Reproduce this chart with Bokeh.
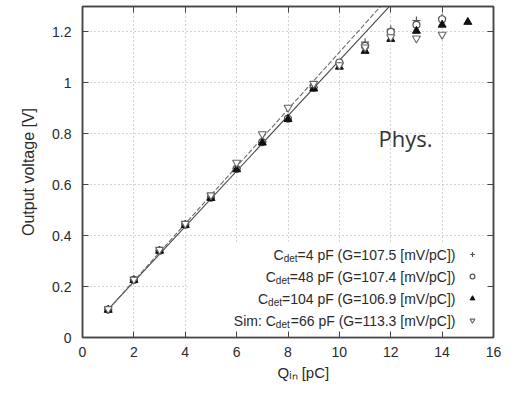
from bokeh.plotting import figure
from bokeh.models import (Range1d, FixedTicker, LinearAxis, Label, Legend, LegendItem,
                          BoxAnnotation, CustomJSTickFormatter, Title)
from bokeh.embed import file_html
from bokeh.resources import INLINE

# ---------------- data ----------------
q_14 = [1, 2, 3, 4, 5, 6, 7, 8, 9, 10, 11, 12, 13, 14]
q_15 = [1, 2, 3, 4, 5, 6, 7, 8, 9, 10, 11, 12, 13, 14, 15]
v_4pf = [0.110, 0.226, 0.342, 0.444, 0.551, 0.663, 0.768, 0.862, 0.982, 1.076, 1.160, 1.210, 1.245, 1.255]
v_48pf = [0.110, 0.226, 0.341, 0.443, 0.549, 0.662, 0.767, 0.860, 0.981, 1.080, 1.145, 1.200, 1.228, 1.250]
v_104pf = [0.108, 0.225, 0.340, 0.441, 0.547, 0.660, 0.765, 0.857, 0.977, 1.063, 1.125, 1.172, 1.204, 1.228, 1.239]
v_sim = [0.112, 0.228, 0.345, 0.447, 0.559, 0.687, 0.799, 0.903, 0.997, 1.070, 1.140, 1.180, 1.175, 1.190]

fit_x = [1, 12.5]
fit_meas_y = [0.110, 1.360]
fit_sim_y = [0.110, 1.401]

x_ticks = [0, 2, 4, 6, 8, 10, 12, 14, 16]
y_ticks = [0, 0.2, 0.4, 0.6, 0.8, 1.0, 1.2]

legend_prefix = ["C", "C", "C", "Sim: C"]
legend_tail = ["=4 pF (G=107.5 [mV/pC])", "=48 pF (G=107.4 [mV/pC])",
               "=104 pF (G=106.9 [mV/pC])", "=66 pF (G=113.3 [mV/pC])"]

# ---------------- figure ----------------
FONT = "Liberation Sans"
TXT = "#2a2a2a"
EDGE = "#444444"

p = figure(width=518, height=397, output_backend="svg", toolbar_location=None,
           x_range=Range1d(0, 16), y_range=Range1d(0, 1.3),
           min_border_left=82, min_border_right=25, min_border_top=6, min_border_bottom=60)
p.background_fill_color = "white"
p.border_fill_color = "white"
p.outline_line_color = EDGE
p.outline_line_width = 1.5

xt = FixedTicker(ticks=x_ticks)
yt = FixedTicker(ticks=y_ticks)
p.xaxis.ticker = xt
p.yaxis.ticker = yt
p.yaxis.formatter = CustomJSTickFormatter(code="return String(Math.round(tick*10)/10);")
for ax in (p.xaxis[0], p.yaxis[0]):
    ax.major_tick_in = 6
    ax.major_tick_out = 0
    ax.minor_tick_line_color = None
    ax.axis_line_color = EDGE
    ax.axis_line_width = 1.5
    ax.major_tick_line_color = EDGE
    ax.major_label_text_font = FONT
    ax.major_label_text_font_size = "14px"
    ax.major_label_text_color = TXT
p.xaxis.major_label_standoff = 9
p.yaxis.major_label_standoff = 11
p.yaxis.axis_label = "Output voltage [V]"
p.yaxis.axis_label_text_font = FONT
p.yaxis.axis_label_text_font_size = "16px"
p.yaxis.axis_label_text_font_style = "normal"
p.yaxis.axis_label_text_color = TXT
p.yaxis.axis_label_standoff = 12

blank = CustomJSTickFormatter(code="return '';")
for tick, place in ((xt, "above"), (yt, "right")):
    ax = LinearAxis(ticker=tick, formatter=blank, major_label_standoff=0,
                    major_tick_in=6, major_tick_out=0, minor_tick_line_color=None,
                    axis_line_color=EDGE, axis_line_width=1.5, major_tick_line_color=EDGE)
    p.add_layout(ax, place)

# x axis title (with subscript "in")
p.add_layout(Title(text="Qᵢₙ [pC]", align="left", offset=195, standoff=4,
                   text_font=FONT, text_font_size="15px", text_font_style="normal",
                   text_color=TXT), "below")

p.xgrid.ticker = xt
p.ygrid.ticker = yt
for g in (p.xgrid[0], p.ygrid[0]):
    g.grid_line_color = "#a8a8a8"
    g.grid_line_dash = "1 3"
    g.grid_line_width = 1

# key background box (hides the grid behind the key, as in the original)
p.add_layout(BoxAnnotation(left=4.1, right=15.93, bottom=0.004, top=0.37,
                           fill_color="white", fill_alpha=1.0, line_alpha=0, level="underlay"))

# fit lines
p.line(fit_x, fit_meas_y, line_color="#4a4a4a", line_width=1.1)
p.line(fit_x, fit_sim_y, line_color="#6a6a6a", line_width=1.1, line_dash="5 2")

r4 = p.scatter(q_14, v_4pf, marker="cross", size=8, line_color="#555555", line_width=1.2)
r48 = p.scatter(q_14, v_48pf, marker="circle", size=7, line_color="#555555", fill_color="white",
                line_width=1.2)
r104 = p.scatter(q_15, v_104pf, marker="triangle", size=8, line_color="#111111", fill_color="#111111")
rsim = p.scatter(q_14, v_sim, marker="inverted_triangle", size=8, line_color="#666666",
                 fill_color="white", line_width=1.1)

legend = Legend(items=[LegendItem(label=" ", renderers=[r]) for r in (r4, r48, r104, rsim)],
                location=(384, 6), orientation="vertical", glyph_width=12, glyph_height=22,
                label_height=22, label_width=0, spacing=0, padding=0, margin=0,
                border_line_alpha=0, background_fill_alpha=0, label_text_font_size="10px",
                label_standoff=0)
p.add_layout(legend)

# key texts with subscripts (screen units are relative to the plot frame)
W = {" ": 278, "(": 333, ")": 333, ".": 278, "/": 278, ":": 278, "=": 584, "C": 722, "F": 611,
     "G": 778, "S": 667, "V": 667, "[": 278, "]": 278, "d": 556, "e": 556, "i": 222, "m": 833,
     "p": 556, "t": 278, "n": 556}
def width(s, fs):
    return sum(W.get(c, 556) for c in s) * fs / 1000.0

FS, FSUB = 14, 10
right_edge = 373
row_y = [83, 61, 39, 17]
for pre, tail, y in zip(legend_prefix, legend_tail, row_y):
    tl = right_edge - width(tail, FS)
    sl = tl - width("det", FSUB)
    p.add_layout(Label(x=right_edge, y=y, x_units="screen", y_units="screen", text=tail,
                       text_align="right", text_baseline="middle", text_font=FONT,
                       text_font_size=f"{FS}px", text_color=TXT))
    p.add_layout(Label(x=sl, y=y - 4, x_units="screen", y_units="screen", text="det",
                       text_align="left", text_baseline="middle", text_font=FONT,
                       text_font_size=f"{FSUB}px", text_color=TXT))
    p.add_layout(Label(x=sl, y=y, x_units="screen", y_units="screen", text=pre,
                       text_align="right", text_baseline="middle", text_font=FONT,
                       text_font_size=f"{FS}px", text_color=TXT))

# watermark-like label
p.add_layout(Label(x=296, y=200, x_units="screen", y_units="screen", text="Phys.",
                   text_align="left", text_baseline="middle", text_font="Open Sans",
                   text_font_size="22px", text_color="#333333"))

open("out.html", "w").write(file_html(p, INLINE))
